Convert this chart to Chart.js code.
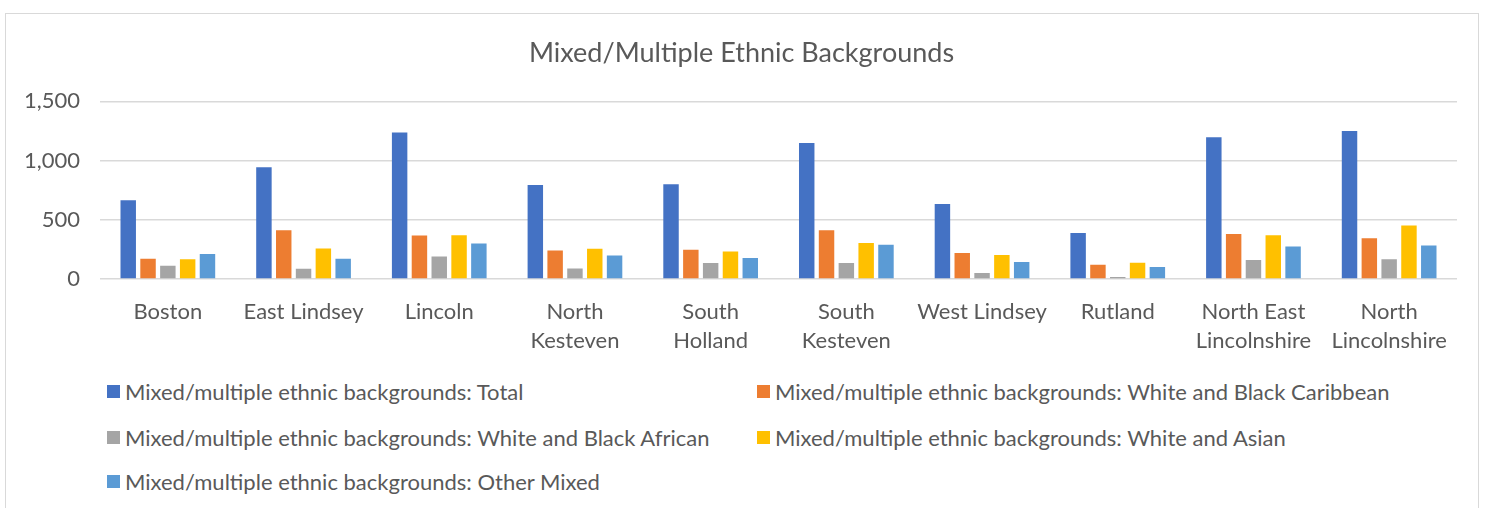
<!DOCTYPE html>
<html>
<head>
<meta charset="utf-8">
<title>Mixed/Multiple Ethnic Backgrounds</title>
<script src="https://cdn.jsdelivr.net/npm/chart.js@4.4.1/dist/chart.umd.min.js"></script>
<style>
  body { margin: 0; background: #fff; font-family: Lato, "Open Sans", sans-serif; }
  #frame {
    position: absolute; left: 5px; top: 13px; width: 1474px; height: 520px;
    border: 1px solid #d9d9d9; box-sizing: border-box;
  }
  #chartBox { position: absolute; left: 0; top: 0; width: 1473px; height: 363px; }
  #legend { position: absolute; left: 0; top: 0; }
  .item { position: absolute; display: flex; align-items: center; color: #595959; font-size: 22px; white-space: nowrap; }
  .swatch { width: 13px; height: 13px; margin-right: 5px; }
</style>
</head>
<body>
<div id="frame">
  <div id="chartBox"><canvas id="ethnicChart"></canvas></div>
  <div id="legend"></div>
</div>
<script>
const areas = ["Boston", "East Lindsey", "Lincoln", ["North", "Kesteven"], ["South", "Holland"],
  ["South", "Kesteven"], "West Lindsey", "Rutland", ["North East", "Lincolnshire"], ["North", "Lincolnshire"]];

const totalMixed      = [665, 943, 1238, 794, 800, 1148, 634, 389, 1197, 1250];
const whiteBlackCarib = [171, 411, 366, 240, 246, 411, 220, 120, 380, 343];
const whiteBlackAfr   = [111, 86, 189, 89, 134, 134, 51, 17, 160, 166];
const whiteAsian      = [166, 257, 369, 254, 231, 303, 203, 137, 369, 451];
const otherMixed      = [211, 171, 300, 197, 177, 289, 143, 100, 274, 283];

const seriesNames = [
  "Mixed/multiple ethnic backgrounds: Total",
  "Mixed/multiple ethnic backgrounds: White and Black Caribbean",
  "Mixed/multiple ethnic backgrounds: White and Black African",
  "Mixed/multiple ethnic backgrounds: White and Asian",
  "Mixed/multiple ethnic backgrounds: Other Mixed"
];
const seriesColors = ["#4472c4", "#ed7d31", "#a5a5a5", "#ffc000", "#5b9bd5"];
const seriesData = [totalMixed, whiteBlackCarib, whiteBlackAfr, whiteAsian, otherMixed];

const textColor = "#595959";
const fontFamily = "Lato, 'Open Sans', sans-serif";

const datasets = seriesData.map((values, i) => ({
  label: seriesNames[i],
  data: values,
  backgroundColor: seriesColors[i],
  borderWidth: 0,
  barPercentage: 0.78,
  categoryPercentage: 0.73
}));

new Chart(document.getElementById("ethnicChart"), {
  type: "bar",
  data: { labels: areas, datasets: datasets },
  options: {
    responsive: true,
    maintainAspectRatio: false,
    animation: false,
    layout: { padding: { left: 20, right: 22, top: 0, bottom: 12 } },
    plugins: {
      legend: { display: false },
      tooltip: { enabled: false },
      title: {
        display: true,
        text: "Mixed/Multiple Ethnic Backgrounds",
        color: textColor,
        font: { family: fontFamily, size: 27, weight: "normal" },
        padding: { top: 23, bottom: 32 }
      }
    },
    scales: {
      x: {
        grid: { display: false },
        border: { display: false },
        ticks: {
          color: textColor,
          padding: 10,
          maxRotation: 0,
          autoSkip: false,
          font: { family: fontFamily, size: 22, lineHeight: 1.32 }
        }
      },
      y: {
        min: 0,
        max: 1500,
        afterFit: scale => { scale.width = 74; },
        grid: { color: "#d9d9d9", lineWidth: 1.5, drawTicks: false },
        border: { display: false },
        ticks: {
          stepSize: 500,
          color: textColor,
          padding: 20,
          font: { family: fontFamily, size: 22 },
          callback: v => v.toLocaleString("en-US")
        }
      }
    }
  }
});

// two-column legend under the plot
const legendSlots = [[101, 377], [751, 377], [101, 423], [751, 423], [101, 467]];
const legendEl = document.getElementById("legend");
seriesNames.forEach((name, i) => {
  const item = document.createElement("div");
  item.className = "item";
  item.style.left = legendSlots[i][0] + "px";
  item.style.top = (legendSlots[i][1] - 13) + "px";
  const sw = document.createElement("span");
  sw.className = "swatch";
  sw.style.background = seriesColors[i];
  const txt = document.createElement("span");
  txt.textContent = name;
  item.appendChild(sw);
  item.appendChild(txt);
  legendEl.appendChild(item);
});
</script>
</body>
</html>
